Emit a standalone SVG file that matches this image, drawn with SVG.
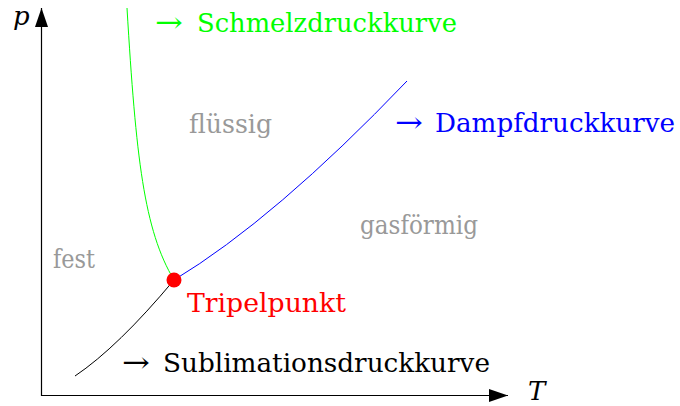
<svg xmlns="http://www.w3.org/2000/svg" width="680" height="406" viewBox="0 0 680 406">
<style>
.t { font-family: "DejaVu Serif", serif; font-size: 26px; }
.ar { font-family: "DejaVu Serif", serif; font-size: 28px; }
.gray { fill: #999999; }
.axis { stroke: #000; stroke-width: 1.2; fill: none; }
.curve { fill: none; stroke-width: 1; }
.it { font-style: italic; }
</style>
<defs>
<marker id="tip" viewBox="0 0 19 13" refX="19" refY="6.5" markerWidth="19" markerHeight="13" markerUnits="userSpaceOnUse" orient="auto">
<path d="M0,0 L19,6.5 L0,13 Z" fill="#000"/>
</marker>
</defs>
<g id="axes">
<line class="axis" x1="41.5" y1="396" x2="41.5" y2="8" marker-end="url(#tip)"/>
<line class="axis" x1="41" y1="395.5" x2="508" y2="395.5" marker-end="url(#tip)"/>
<text class="t it" x="13" y="25">p</text>
<text class="t it" x="528" y="400">T</text>
</g>
<g id="connectors">
<path class="curve" stroke="#00ff00" d="M127,8 C136,158 144,230 174,280"/>
<path class="curve" stroke="#0000ff" d="M174,280 Q275,219 407,81"/>
<path class="curve" stroke="#000000" d="M75,376 Q118,347 174,280"/>
</g>
<g id="triple">
<circle cx="174" cy="280" r="7.5" fill="#ff0000"/>
<text class="t" x="187" y="312" fill="#ff0000" textLength="159" lengthAdjust="spacingAndGlyphs">Tripelpunkt</text>
</g>
<g id="schmelz">
<text class="ar" x="155" y="32" fill="#00ff00" textLength="28" lengthAdjust="spacingAndGlyphs">→</text>
<text class="t" x="197" y="32" fill="#00ff00" textLength="260" lengthAdjust="spacingAndGlyphs">Schmelzdruckkurve</text>
</g>
<g id="dampf">
<text class="ar" x="395" y="132" fill="#0000ff" textLength="28" lengthAdjust="spacingAndGlyphs">→</text>
<text class="t" x="435" y="132" fill="#0000ff" textLength="240" lengthAdjust="spacingAndGlyphs">Dampfdruckkurve</text>
</g>
<g id="sublimation">
<text class="ar" x="122" y="372" fill="#000" textLength="28" lengthAdjust="spacingAndGlyphs">→</text>
<text class="t" x="163" y="372" fill="#000" textLength="327" lengthAdjust="spacingAndGlyphs">Sublimationsdruckkurve</text>
</g>
<g id="fluessig"><text class="t gray" x="189" y="133" textLength="83" lengthAdjust="spacingAndGlyphs">flüssig</text></g>
<g id="gasfoermig"><text class="t gray" x="360" y="234" textLength="118" lengthAdjust="spacingAndGlyphs">gasförmig</text></g>
<g id="fest"><text class="t gray" x="53" y="268" textLength="42" lengthAdjust="spacingAndGlyphs">fest</text></g>
</svg>
